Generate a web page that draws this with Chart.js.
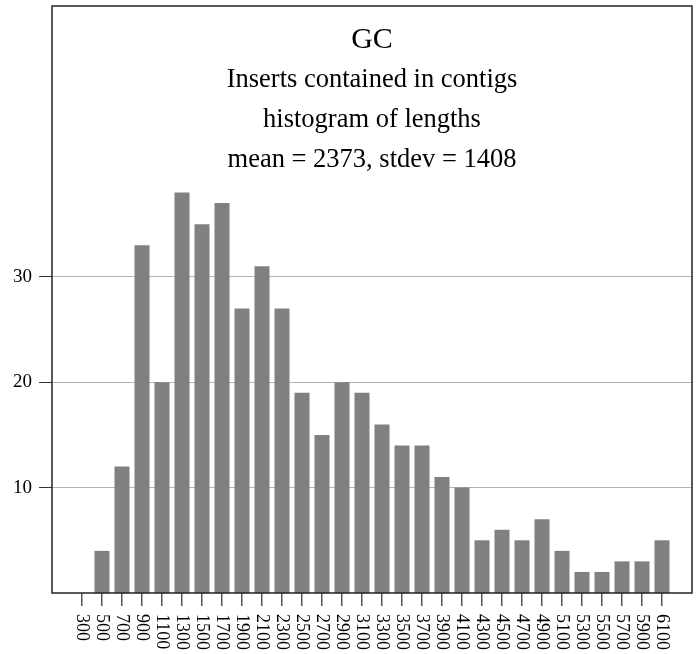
<!DOCTYPE html>
<html>
<head>
<meta charset="utf-8">
<script src="https://cdn.jsdelivr.net/npm/chart.js@4/dist/chart.umd.min.js"></script>
<style>
html,body{margin:0;padding:0;background:#fff;}
canvas{display:block;}
</style>
</head>
<body>
<canvas id="c" width="696" height="654"></canvas>
<script>
const categories = [300,500,700,900,1100,1300,1500,1700,1900,2100,2300,2500,2700,2900,3100,3300,3500,3700,3900,4100,4300,4500,4700,4900,5100,5300,5500,5700,5900,6100];
const counts = [0,4,12,33,20,38,35,37,27,31,27,19,15,20,19,16,14,14,11,10,5,6,5,7,4,2,2,3,3,5];
const yTicks = [10,20,30];
const titleLines = ["GC","Inserts contained in contigs","histogram of lengths","mean = 2373, stdev = 1408"];

const FONT = "'Liberation Serif', 'DejaVu Serif', serif";

const framePlugin = {
  id: 'frame',
  afterDraw(chart) {
    const ctx = chart.ctx, a = chart.chartArea;
    ctx.save();
    ctx.strokeStyle = '#222';
    ctx.lineWidth = 1.5;
    ctx.strokeRect(a.left, a.top, a.right - a.left, a.bottom - a.top);
    // x labels rotated clockwise
    const xs = chart.scales.x;
    ctx.fillStyle = '#000';
    ctx.font = "18px " + FONT;
    ctx.textAlign = 'left';
    ctx.textBaseline = 'middle';
    categories.forEach(v => {
      const px = xs.getPixelForValue(v);
      ctx.save();
      ctx.translate(px, a.bottom + 21);
      ctx.rotate(Math.PI / 2);
      ctx.fillText(String(v), 0, 0);
      ctx.restore();
    });
    // titles
    const cx = (a.left + a.right) / 2;
    ctx.textAlign = 'center';
    ctx.textBaseline = 'alphabetic';
    ctx.font = "30px " + FONT;
    ctx.fillText(titleLines[0], cx, a.top + 42);
    ctx.font = "26.5px " + FONT;
    ctx.fillText(titleLines[1], cx, a.top + 81);
    ctx.fillText(titleLines[2], cx, a.top + 121);
    ctx.fillText(titleLines[3], cx, a.top + 161);
    ctx.restore();
  }
};

new Chart(document.getElementById('c'), {
  type: 'bar',
  data: {
    datasets: [{
      data: categories.map((c, i) => ({x: c, y: counts[i]})),
      backgroundColor: '#808080',
      borderWidth: 0,
      categoryPercentage: 1,
      barPercentage: 0.75
    }]
  },
  options: {
    responsive: false,
    devicePixelRatio: 1,
    animation: false,
    layout: {padding: {top: 6, right: 4, left: 0, bottom: 0}},
    plugins: {legend: {display: false}, tooltip: {enabled: false}, title: {display: false}},
    scales: {
      x: {
        type: 'linear',
        offset: false,
        min: 0,
        max: 6400,
        afterBuildTicks: s => { s.ticks = categories.map(v => ({value: v})); },
        afterFit: s => { s.height = 61; s.paddingLeft = 0; s.paddingRight = 0; },
        grid: {offset: false, drawOnChartArea: false, drawTicks: true, tickLength: 13, tickColor: '#555', lineWidth: 1.5},
        border: {display: false},
        ticks: {display: false}
      },
      y: {
        min: 0,
        max: 55.7,
        afterBuildTicks: s => { s.ticks = yTicks.map(v => ({value: v})); },
        afterFit: s => { s.width = 52; s.paddingTop = 0; s.paddingBottom = 0; },
        grid: {color: '#b4b4b4', lineWidth: 1, drawTicks: true, tickLength: 13, tickColor: '#333'},
        border: {display: false},
        ticks: {color: '#000', font: {family: FONT, size: 19}, padding: 7}
      }
    }
  },
  plugins: [framePlugin]
});
</script>
</body>
</html>
